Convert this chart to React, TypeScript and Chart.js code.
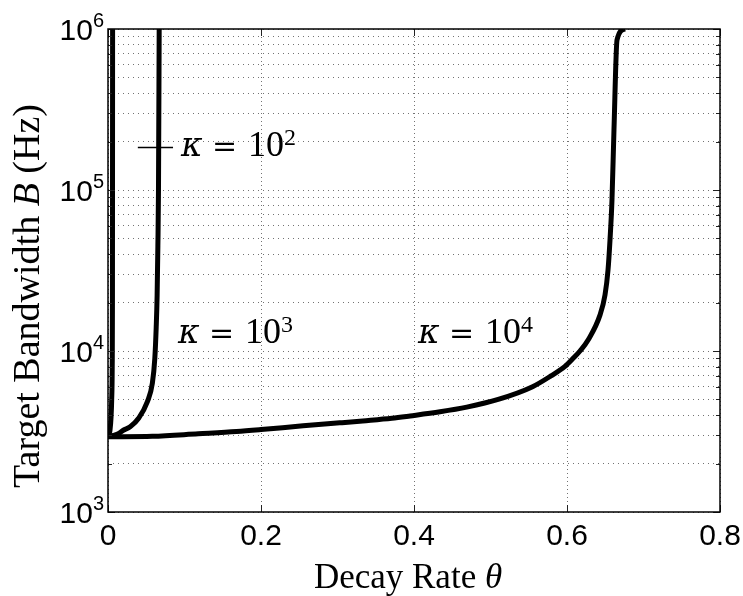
import React, { useEffect, useRef } from 'react';
import { Chart, registerables } from 'chart.js';

Chart.register(...registerables);

// ---- data ----
const thetaK2 = [0, 0.0015, 0.0026, 0.004, 0.0048, 0.0055, 0.0058, 0.0059, 0.006];
const bandK2 = [2930, 3050, 3220, 3900, 4950, 8000, 20000, 100000, 1000000];

const thetaK3 = [0, 0.007, 0.014, 0.02, 0.029, 0.04, 0.0515, 0.058, 0.0612, 0.063, 0.0642, 0.0652, 0.066, 0.0669];
const bandK3 = [2930, 2990, 3075, 3220, 3380, 3820, 4850, 6310, 9000, 14000, 22000, 45000, 100000, 1000000];

const thetaK4 = [0, 0.058, 0.118, 0.168, 0.2, 0.255, 0.303, 0.333, 0.371, 0.395, 0.434, 0.469, 0.51, 0.555, 0.579, 0.597, 0.608, 0.617, 0.628, 0.6431, 0.6497, 0.6536, 0.6562, 0.6588, 0.6614, 0.6654, 0.6758];
const bandK4 = [2930, 2950, 3060, 3160, 3250, 3430, 3580, 3680, 3820, 3950, 4190, 4480, 5000, 6000, 7000, 8000, 9000, 10000, 11800, 16700, 22300, 31800, 48900, 86700, 236000, 857000, 1000000];

const xTickValues = [0, 0.2, 0.4, 0.6, 0.8];
const xTickLabels = ['0', '0.2', '0.4', '0.6', '0.8'];
const yDecades = [1e3, 1e4, 1e5, 1e6];
const yExponents = ['3', '4', '5', '6'];
const minorMultipliers = [2, 3, 4, 5, 6, 7, 8, 9];

const kappaExponents = ['2', '3', '4'];
const kappaAnchorTheta = [0.098, 0.094, 0.408];
const kappaAnchorBand = [163000, 11250, 11250];
const leaderTheta = [0.039, 0.085];
const leaderBand = 183600;

const xTitle = 'Decay Rate ';
const xTitleVar = 'θ';
const yTitleA = 'Target Bandwidth ';
const yTitleVar = 'B';
const yTitleB = ' (Hz)';

const SANS = '"Liberation Sans", Arial, Helvetica, sans-serif';
const SERIF = '"Liberation Serif", "Times New Roman", Times, serif';
const MATH = '"DejaVu Serif", "Liberation Serif", serif';

function toPoints(xs: number[], ys: number[]) {
  return xs.map((x, i) => ({ x, y: ys[i] }));
}

const decorPlugin = {
  id: 'decor',
  afterDatasetsDraw(chart: any) {
    const ctx = chart.ctx as CanvasRenderingContext2D;
    const { left, right, top, bottom } = chart.chartArea;
    const xs = chart.scales.x;
    const ys = chart.scales.y;
    ctx.save();
    ctx.strokeStyle = '#222';
    ctx.lineWidth = 1;
    ctx.beginPath();
    ys.ticks.forEach((t: any) => {
      const y = Math.round(ys.getPixelForValue(t.value)) + 0.5;
      const major = Math.abs(Math.log10(t.value) - Math.round(Math.log10(t.value))) < 1e-9;
      const len = major ? 7 : 4;
      ctx.moveTo(left, y);
      ctx.lineTo(left + len, y);
      ctx.moveTo(right, y);
      ctx.lineTo(right - len, y);
    });
    xTickValues.forEach((v) => {
      const x = Math.round(xs.getPixelForValue(v)) + 0.5;
      ctx.moveTo(x, bottom);
      ctx.lineTo(x, bottom - 7);
      ctx.moveTo(x, top);
      ctx.lineTo(x, top + 7);
    });
    ctx.stroke();
    ctx.strokeStyle = '#000';
    ctx.lineWidth = 1.5;
    ctx.strokeRect(left, top, right - left, bottom - top);
    ctx.restore();
  },
  afterDraw(chart: any) {
    const ctx = chart.ctx as CanvasRenderingContext2D;
    const { left, right, bottom } = chart.chartArea;
    const xs = chart.scales.x;
    const ys = chart.scales.y;
    ctx.save();
    ctx.fillStyle = '#000';
    ctx.textBaseline = 'alphabetic';

    // x tick labels
    ctx.font = `30px ${SANS}`;
    ctx.textAlign = 'center';
    xTickValues.forEach((v, i) => {
      ctx.fillText(xTickLabels[i], xs.getPixelForValue(v), bottom + 33);
    });

    // y tick labels 10^n
    yDecades.forEach((v, i) => {
      const y = ys.getPixelForValue(v);
      ctx.font = `20px ${SANS}`;
      ctx.textAlign = 'right';
      const ex = yExponents[i];
      const ew = ctx.measureText(ex).width;
      ctx.fillText(ex, left - 4, y - 2.5);
      ctx.font = `30px ${SANS}`;
      ctx.fillText('10', left - 4 - ew, y + 11);
    });

    // kappa annotations
    kappaExponents.forEach((ex, i) => {
      const x0 = xs.getPixelForValue(kappaAnchorTheta[i]);
      const base = ys.getPixelForValue(kappaAnchorBand[i]);
      ctx.textAlign = 'left';
      ctx.font = `italic 33px ${MATH}`;
      ctx.fillText('κ', x0 - 2, base);
      ctx.font = `30px ${MATH}`;
      ctx.fillText('=', x0 + 29, base);
      ctx.font = `36px ${SERIF}`;
      ctx.fillText('10', x0 + 65, base);
      ctx.font = `24px ${SERIF}`;
      ctx.fillText(ex, x0 + 101, base - 11);
    });

    // leader line for kappa = 10^2
    ctx.strokeStyle = '#000';
    ctx.lineWidth = 1.5;
    ctx.beginPath();
    const ly = ys.getPixelForValue(leaderBand);
    ctx.moveTo(xs.getPixelForValue(leaderTheta[0]), ly);
    ctx.lineTo(xs.getPixelForValue(leaderTheta[1]), ly);
    ctx.stroke();

    // x title
    ctx.font = `35px ${SERIF}`;
    const w1 = ctx.measureText(xTitle).width;
    ctx.font = `italic 35px ${SERIF}`;
    const w2 = ctx.measureText(xTitleVar).width;
    const cx = (left + right) / 2 - 6;
    const sx = cx - (w1 + w2) / 2;
    ctx.textAlign = 'left';
    ctx.font = `35px ${SERIF}`;
    ctx.fillText(xTitle, sx, 588);
    ctx.font = `italic 35px ${SERIF}`;
    ctx.fillText(xTitleVar, sx + w1, 588);

    // y title (rotated)
    ctx.save();
    ctx.translate(39, 296);
    ctx.rotate(-Math.PI / 2);
    const fs = 38;
    ctx.font = `${fs}px ${SERIF}`;
    const a = ctx.measureText(yTitleA).width;
    const c = ctx.measureText(yTitleB).width;
    ctx.font = `italic ${fs}px ${SERIF}`;
    const b = ctx.measureText(yTitleVar).width;
    let px = -(a + b + c) / 2;
    ctx.font = `${fs}px ${SERIF}`;
    ctx.fillText(yTitleA, px, 0);
    px += a;
    ctx.font = `italic ${fs}px ${SERIF}`;
    ctx.fillText(yTitleVar, px, 0);
    px += b;
    ctx.font = `${fs}px ${SERIF}`;
    ctx.fillText(yTitleB, px, 0);
    ctx.restore();

    ctx.restore();
  },
};

export default function App() {
  const ref = useRef<HTMLCanvasElement>(null);
  useEffect(() => {
    const lineStyle = {
      borderColor: '#000',
      backgroundColor: '#000',
      borderWidth: 5,
      pointRadius: 0,
      fill: false,
      cubicInterpolationMode: 'monotone' as const,
      borderJoinStyle: 'round' as const,
      borderCapStyle: 'butt' as const,
    };
    const gridTicks: number[] = [];
    yDecades.forEach((d, i) => {
      gridTicks.push(d);
      if (i < yDecades.length - 1) minorMultipliers.forEach((m) => gridTicks.push(d * m));
    });
    const chart = new Chart(ref.current as HTMLCanvasElement, {
      type: 'line',
      data: {
        datasets: [
          { ...lineStyle, label: 'k2', data: toPoints(thetaK2, bandK2) },
          { ...lineStyle, label: 'k3', data: toPoints(thetaK3, bandK3) },
          { ...lineStyle, label: 'k4', data: toPoints(thetaK4, bandK4) },
        ],
      },
      options: {
        animation: false,
        responsive: false,
        devicePixelRatio: 1,
        parsing: false as any,
        layout: { padding: { left: 108, right: 23, top: 29, bottom: 84 } },
        plugins: { legend: { display: false }, tooltip: { enabled: false } },
        scales: {
          x: {
            type: 'linear',
            min: 0,
            max: 0.8,
            ticks: { display: false, stepSize: 0.2 },
            grid: { color: 'rgba(0,0,0,0.55)', lineWidth: 1, drawTicks: false },
            border: { display: false, dash: [1, 3] },
            afterFit: (s: any) => { s.height = 0; },
          },
          y: {
            type: 'logarithmic',
            min: 1000,
            max: 1000000,
            ticks: { display: false },
            grid: { color: 'rgba(0,0,0,0.55)', lineWidth: 1, drawTicks: false },
            border: { display: false, dash: [1, 4] },
            afterBuildTicks: (s: any) => { s.ticks = gridTicks.map((v) => ({ value: v })); },
            afterFit: (s: any) => { s.width = 0; },
          },
        },
      } as any,
      plugins: [decorPlugin],
    });
    return () => chart.destroy();
  }, []);
  return (
    <div style={{ position: 'fixed', left: 0, top: 0, width: 743, height: 596, background: '#fff' }}>
      <canvas ref={ref} width={743} height={596} style={{ display: 'block', width: 743, height: 596 }} />
    </div>
  );
}
